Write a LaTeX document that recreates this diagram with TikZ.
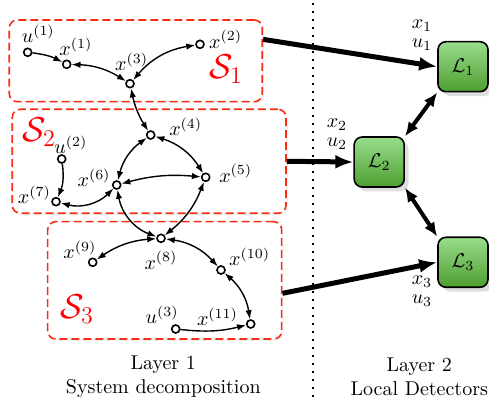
\documentclass[tikz,border=0pt]{standalone}
\usepackage{amsmath}
\usepackage{amssymb}
\usepackage{xcolor}
\usetikzlibrary{positioning,arrows.meta,shadows,calc}

\definecolor{boxred}{RGB}{250,45,20}
\definecolor{dettop}{RGB}{152,222,140}
\definecolor{detbot}{RGB}{78,158,48}

\begin{document}
\begin{tikzpicture}[x=0.5pt, y=0.5pt]
  \tikzset{
    vertex/.style={draw, circle, line width=0.8pt, inner sep=0pt, minimum size=4pt, fill=white},
    every label/.style={inner sep=1pt},
    link/.style={line width=0.7pt, {Latex[length=4.5pt,width=3.2pt]}-{Latex[length=4.5pt,width=3.2pt]}},
    input/.style={line width=0.7pt, -{Latex[length=4.5pt,width=3.2pt]}},
    sysbox/.style={draw=boxred, line width=0.8pt, dash pattern=on 4pt off 2pt, rounded corners=4pt, inner sep=0pt, fill=white, drop shadow={opacity=0.1, shadow xshift=1pt, shadow yshift=-1pt}},
    slabel/.style={text=red, font=\LARGE},
    detector/.style={draw=black, line width=0.8pt, rounded corners=4pt, minimum size=25pt, top color=dettop, bottom color=detbot, drop shadow={opacity=0.25}},
    feed/.style={line width=2.5pt, -{Latex[length=9pt,width=7pt]}},
    comm/.style={line width=2pt, {Latex[length=7pt,width=6pt]}-{Latex[length=7pt,width=6pt]}},
    layer/.style={align=center}
  }
  \useasboundingbox (0,0) rectangle (489,-405);

  % subsystems
  \node[sysbox, minimum width=126.5pt, minimum height=40.85pt] (S1box) at (135.8,-60.85) {};
  \node[sysbox, minimum width=136.85pt, minimum height=52pt] (S2box) at (149.15,-161.3) {};
  \node[sysbox, minimum width=117pt, minimum height=58.65pt] (S3box) at (164.7,-280.35) {};
  \node[slabel] (s1) at (226,-69.5) {$\mathcal{S}_1$};
  \node[slabel] (s2) at (39,-132.5) {$\mathcal{S}_2$};
  \node[slabel] (s3) at (77,-309) {$\mathcal{S}_3$};

  % layer separator
  \coordinate (sepTop) at (313,-3);
  \coordinate (sepBot) at (313,-400);
  \draw[line width=0.8pt, dash pattern=on 0.8pt off 3.2pt] (sepTop) -- (sepBot);

  % states and inputs
  \node[vertex, label={[label distance=1.4pt, xshift=5.3pt]above:$u^{(1)}$}] (u1) at (27.7,-52.3) {};
  \node[vertex, label={[label distance=0.7pt, xshift=4.6pt]above:$x^{(1)}$}] (x1) at (66.7,-64.3) {};
  \node[vertex, label={[label distance=2.9pt, xshift=0.8pt]above:$x^{(3)}$}] (x3) at (130,-83.7) {};
  \node[vertex, label={[label distance=1pt, yshift=2.5pt]right:$x^{(2)}$}] (x2) at (200,-44.3) {};
  \node[vertex, label={[label distance=5.7pt, yshift=4.2pt]right:$x^{(4)}$}] (x4) at (150.7,-135) {};
  \node[vertex, label={[label distance=-1pt, xshift=4.6pt]above:$u^{(2)}$}] (u2) at (61.7,-159) {};
  \node[vertex, label={[label distance=-0.5pt, yshift=3.5pt]left:$x^{(6)}$}] (x6) at (116.7,-185) {};
  \node[vertex, label={[label distance=3.2pt, yshift=2pt]right:$x^{(5)}$}] (x5) at (205.7,-177.3) {};
  \node[vertex, label={[label distance=-1pt, yshift=3.3pt]left:$x^{(7)}$}] (x7) at (56,-201.7) {};
  \node[vertex, label={[label distance=3pt]below:$x^{(8)}$}] (x8) at (161,-238.3) {};
  \node[vertex, label={[label distance=-1.8pt, xshift=-6.4pt]above:$x^{(9)}$}] (x9) at (92.7,-262.3) {};
  \node[vertex, label={[label distance=0.5pt, yshift=6.5pt]right:$x^{(10)}$}] (x10) at (221,-270) {};
  \node[vertex, label={[label distance=2.8pt, yshift=3.8pt]left:$x^{(11)}$}] (x11) at (250.7,-324) {};
  \node[vertex, label={[label distance=-1pt, xshift=-6.8pt]above:$u^{(3)}$}] (u3) at (175.7,-329) {};

  \draw[input] (u1) to[bend left=10] (x1);
  \draw[link] (x1) to[bend left=15] (x3);
  \draw[link] (x3) to[bend left=20] (x2);
  \draw[link] (x3) to[bend right=10] (x4);
  \draw[link] (x4) to[bend right=20] (x6);
  \draw[link] (x4) to[bend left=20] (x5);
  \draw[link] (x6) to[bend left=10] (x5);
  \draw[input] (u2) to[bend left=15] (x7);
  \draw[link] (x7) to[bend right=30] (x6);
  \draw[link] (x6) to[bend right=30] (x8);
  \draw[link] (x5) to[bend left=15] (x8);
  \draw[link] (x8) to[bend right=15] (x9);
  \draw[link] (x8) to[bend left=20] (x10);
  \draw[link] (x10) to[bend left=20] (x11);
  \draw[input] (u3) to[bend right=10] (x11);

  % local detectors
  \node[detector] (L1) at (463,-66.7) {$\mathcal{L}_1$};
  \node[detector] (L2) at (379.2,-162) {$\mathcal{L}_2$};
  \node[detector] (L3) at (463,-262.3) {$\mathcal{L}_3$};
  \node[align=center] (lab1) at (422,-35.5) {$x_1$\\[-2.5pt]$u_1$};
  \node[align=center] (lab2) at (337,-134) {$x_2$\\[-2.5pt]$u_2$};
  \node[align=center] (lab3) at (422,-291) {$x_3$\\[-2.5pt]$u_3$};

  \draw[feed] ($(S1box.east)+(0,21.5)$) -- (L1.west);
  \draw[feed] (S2box.east) -- (L2.west);
  \draw[feed] ($(S3box.east)+(0,-13)$) -- (L3.west);
  \draw[comm] (L1.south west) -- (L2.north east);
  \draw[comm] (L2.south east) -- (L3.north west);

  % layer captions
  \node[layer] (layer1) at (163.3,-377) {Layer 1\\System decomposition};
  \node[layer] (layer2) at (419.3,-377) {Layer 2\\Local Detectors};
\end{tikzpicture}
\end{document}
